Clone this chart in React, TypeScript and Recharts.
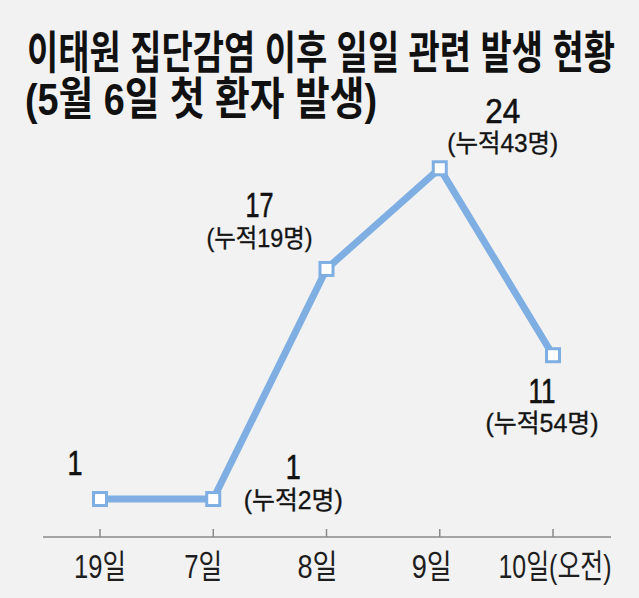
import React from 'react';
import { LineChart, Line, XAxis, YAxis, LabelList } from 'recharts';

const categories = ['19일', '7일', '8일', '9일', '10일(오전)'];
const daily = [1, 1, 17, 24, 11];
const cumulative: (number | null)[] = [null, 2, 19, 43, 54];

const titleLines = ['이태원 집단감염 이후 일일 관련 발생 현황', '(5월 6일 첫 환자 발생)'];

const data = categories.map((c, i) => ({ name: c, daily: daily[i], cum: cumulative[i] }));

// layout (not data)
const labelLayout = [
  { dx: -25, numDy: -24, numW: 15, subDy: 0, subW: 0 },
  { dx: 80, numDy: -20, numW: 15, subDy: 10, subW: 99 },
  { dx: -67, numDy: -52, numW: 28, subDy: -22, subW: 106 },
  { dx: 63, numDy: -45, numW: 35, subDy: -16, subW: 111 },
  { dx: -11, numDy: 48, numW: 27, subDy: 77, subW: 113 },
];
const tickLayout = [
  { dx: 0, w: 52 },
  { dx: -10, w: 38 },
  { dx: -9, w: 40 },
  { dx: -8, w: 40 },
  { dx: 2, w: 113 },
];

const FONT = '"Liberation Sans", "Noto Sans CJK KR", sans-serif';
const LINE_COLOR = '#7eaee2';
const AXIS_COLOR = '#8a8a8a';

const renderLabel = (props: any) => {
  const { x, y, index } = props;
  const lay = labelLayout[index];
  const cum = cumulative[index];
  return (
    <g key={`lbl-${index}`}>
      <text
        x={x + lay.dx}
        y={y + lay.numDy}
        textAnchor="middle"
        fontFamily={FONT}
        fontSize={35}
        fontWeight={400}
        fill="#111"
        stroke="#111"
        strokeWidth={0.6}
        textLength={lay.numW}
        lengthAdjust="spacingAndGlyphs"
      >
        {String(daily[index])}
      </text>
      {cum != null && (
        <text
          x={x + lay.dx}
          y={y + lay.subDy}
          textAnchor="middle"
          fontFamily={FONT}
          fontSize={25}
          fontWeight={400}
          fill="#141414"
          stroke="#141414"
          strokeWidth={0.35}
          textLength={lay.subW}
          lengthAdjust="spacingAndGlyphs"
        >
          {`(누적${cum}명)`}
        </text>
      )}
    </g>
  );
};

const renderTick = (props: any) => {
  const { x, y, payload, index } = props;
  const lay = tickLayout[index] || { dx: 0, w: 40 };
  return (
    <g key={`tick-${index}`}>
      <line x1={x} y1={y - 8} x2={x} y2={y} stroke={AXIS_COLOR} strokeWidth={1.5} />
      <text
        x={x + lay.dx}
        y={y + 41}
        textAnchor="middle"
        fontFamily={FONT}
        fontSize={33}
        fontWeight={400}
        fill="#1e1e1e"
        textLength={lay.w}
        lengthAdjust="spacingAndGlyphs"
      >
        {payload.value}
      </text>
    </g>
  );
};

const renderDot = (props: any) => {
  const { cx, cy, index } = props;
  return (
    <rect
      key={`dot-${index}`}
      x={cx - 6.5}
      y={cy - 6.5}
      width={13}
      height={13}
      fill="#ffffff"
      stroke={LINE_COLOR}
      strokeWidth={3}
    />
  );
};

export default function App() {
  return (
    <div
      style={{
        position: 'absolute',
        left: 0,
        top: 0,
        width: 639,
        height: 598,
        background: '#f2f2f2',
        overflow: 'hidden',
      }}
    >
      <svg
        width={639}
        height={130}
        style={{ position: 'absolute', left: 0, top: 0, pointerEvents: 'none' }}
      >
        <text
          x={27}
          y={69}
          fontFamily={FONT}
          fontSize={45}
          fontWeight={700}
          fill="#111"
          textLength={588}
          lengthAdjust="spacingAndGlyphs"
        >
          {titleLines[0]}
        </text>
        <text
          x={25}
          y={115}
          fontFamily={FONT}
          fontSize={45}
          fontWeight={700}
          fill="#111"
          textLength={352}
          lengthAdjust="spacingAndGlyphs"
        >
          {titleLines[1]}
        </text>
      </svg>
      <LineChart
        width={639}
        height={598}
        data={data}
        margin={{ top: 82, right: 28, bottom: 21, left: 43 }}
      >
        <XAxis
          dataKey="name"
          height={40}
          interval={0}
          padding={{ left: 57, right: 58 }}
          axisLine={{ stroke: AXIS_COLOR, strokeWidth: 1.5 }}
          tickLine={false}
          tickSize={0}
          tickMargin={0}
          tick={renderTick}
        />
        <YAxis hide domain={[-1.64, 30]} allowDataOverflow />
        <Line
          type="linear"
          dataKey="daily"
          stroke={LINE_COLOR}
          strokeWidth={7}
          strokeLinejoin="round"
          dot={renderDot}
          activeDot={false}
          isAnimationActive={false}
        >
          <LabelList dataKey="daily" content={renderLabel} />
        </Line>
      </LineChart>
    </div>
  );
}
